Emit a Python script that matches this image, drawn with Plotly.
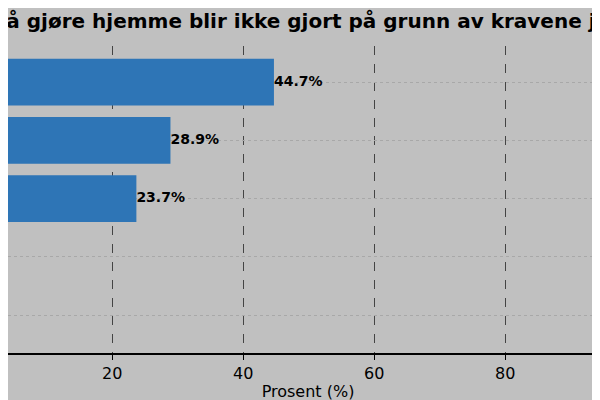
import plotly.graph_objects as go

categories = ["Aldri", "Sjelden", "Noen ganger", "Ofte", "Alltid"]
values = [44.7, 28.9, 23.7, 2.6, 0.0]
labels = [f"{v:.1f}%" if v else "0%" for v in values]
title = "Ting å gjøre hjemme blir ikke gjort på grunn av kravene jobben"

fig = go.Figure(go.Bar(
    y=categories, x=values, orientation="h", width=0.8,
    marker=dict(color="#2e75b6", line=dict(width=0)),
))
fig.add_trace(go.Scatter(
    y=categories, x=values, mode="text", text=labels, textposition="middle right",
    cliponaxis=False, hoverinfo="skip",
    textfont=dict(family="DejaVu Sans", size=14, color="black", weight="bold"),
))
fig.update_layout(
    width=600, height=400,
    paper_bgcolor="#c0c0c0", plot_bgcolor="#c0c0c0",
    margin=dict(l=0, r=0, t=38, b=55, autoexpand=False),
    title=dict(text="<b>" + title + "</b>", x=0.5, xanchor="center", y=0.985, yanchor="top",
               font=dict(family="DejaVu Sans", size=20, color="black")),
    font=dict(family="DejaVu Sans", color="black"),
    showlegend=False,
)
fig.update_xaxes(range=[4.1, 95.7], tickvals=[20, 40, 60, 80], tickfont=dict(size=16),
                 showgrid=True, gridcolor="#444", griddash="dash", gridwidth=1,
                 zeroline=False, showline=True, linecolor="black", linewidth=1.5,
                 ticks="outside", ticklen=5, tickcolor="black",
                 title=dict(text="Prosent (%)", font=dict(size=16), standoff=4))
fig.update_yaxes(range=[4.65, -0.62], showticklabels=False, showgrid=True,
                 gridcolor="#a8a8a8", griddash="dot", zeroline=False)
fig.write_html("out.html")
